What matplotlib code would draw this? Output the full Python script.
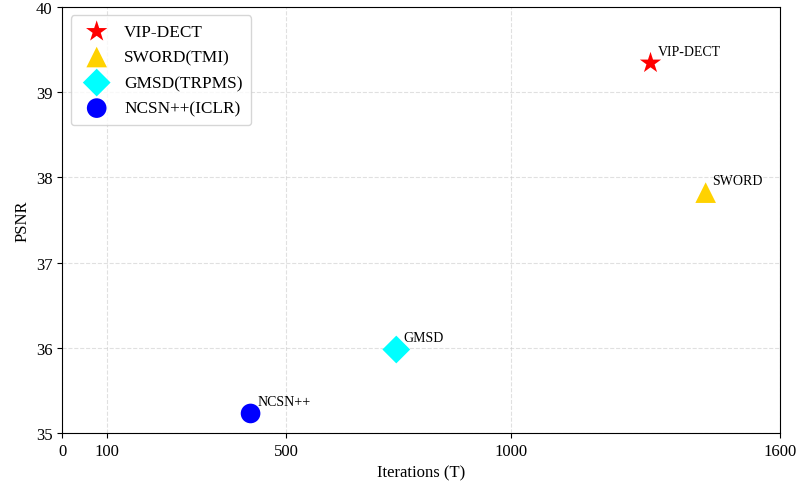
import matplotlib
matplotlib.use("Agg")
import matplotlib.pyplot as plt

plt.rcParams["font.family"] = ["Liberation Serif", "DejaVu Serif"]

# methods: iterations vs PSNR
methods = ["VIP-DECT", "SWORD", "GMSD", "NCSN++"]
legend_names = ["VIP-DECT", "SWORD(TMI)", "GMSD(TRPMS)", "NCSN++(ICLR)"]
iterations = [1312, 1435, 745, 420]
psnr = [39.34, 37.82, 35.98, 35.23]

markers = ["*", "^", "D", "o"]
colors = ["red", "#FFD200", "cyan", "blue"]
sizes = [260, 220, 200, 200]

xticks = [0, 100, 500, 1000, 1600]
yticks = [35, 36, 37, 38, 39, 40]

fig, ax = plt.subplots(figsize=(7.98, 4.85), dpi=100)
fig.subplots_adjust(left=0.078, right=0.977, top=0.984, bottom=0.105)

for name, lab, x, y, m, c, s in zip(methods, legend_names, iterations, psnr, markers, colors, sizes):
    ax.scatter(x, y, marker=m, color=c, s=s, label=lab, zorder=3, edgecolors="none")
    ax.annotate(name, (x, y), xytext=(5, 6), textcoords="offset points", fontsize=10)

ax.set_xlim(0, 1600)
ax.set_ylim(35, 40)
ax.set_xticks(xticks)
ax.set_yticks(yticks)
ax.tick_params(labelsize=12)
ax.set_xlabel("Iterations (T)", fontsize=12)
ax.set_ylabel("PSNR", fontsize=12)
ax.grid(True, linestyle="--", color="#cccccc", alpha=0.6, linewidth=0.8)

ax.legend(loc="upper left", fontsize=12.4, handletextpad=0.6, labelspacing=0.55,
          borderpad=0.5, scatterpoints=1)

plt.savefig("out.png", dpi=100)
